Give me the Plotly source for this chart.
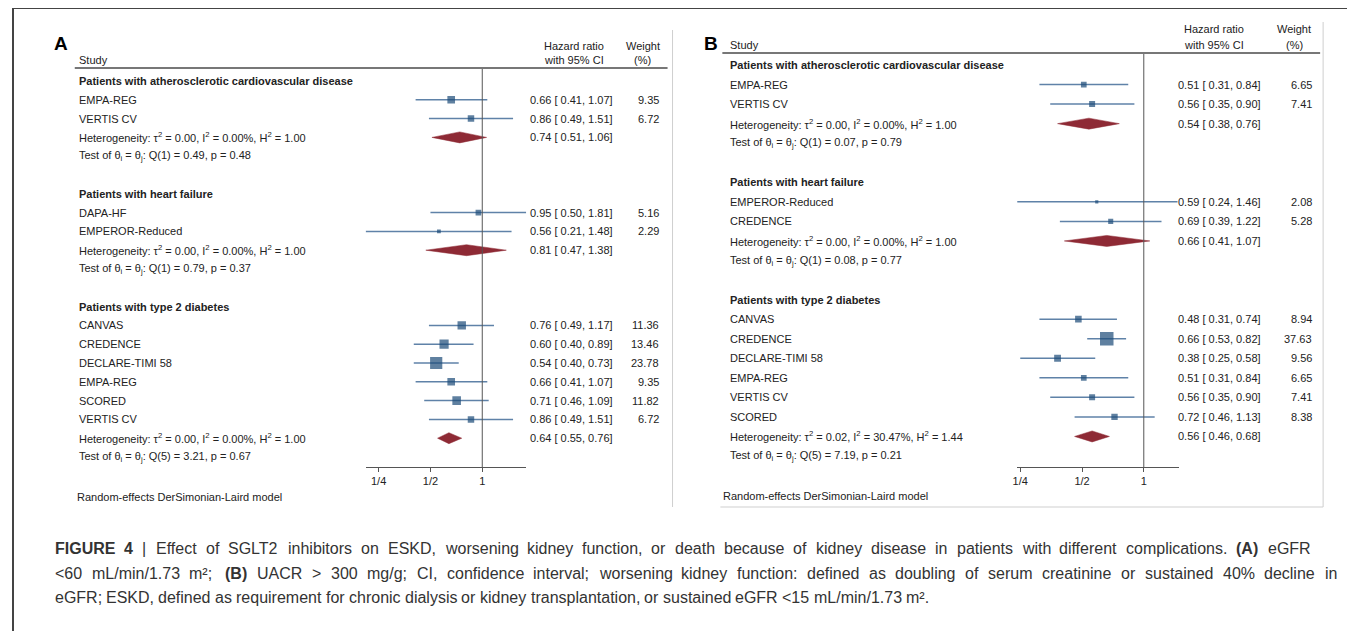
import math
import plotly.graph_objects as go

# ---------------- data ----------------
groups = ["Patients with atherosclerotic cardiovascular disease",
          "Patients with heart failure",
          "Patients with type 2 diabetes"]

# Panel A: eGFR < 60
A_studies = [["EMPA-REG", "VERTIS CV"],
             ["DAPA-HF", "EMPEROR-Reduced"],
             ["CANVAS", "CREDENCE", "DECLARE-TIMI 58", "EMPA-REG", "SCORED", "VERTIS CV"]]
A_hr = [[0.66, 0.86], [0.95, 0.56], [0.76, 0.60, 0.54, 0.66, 0.71, 0.86]]
A_lo = [[0.41, 0.49], [0.50, 0.21], [0.49, 0.40, 0.40, 0.41, 0.46, 0.49]]
A_hi = [[1.07, 1.51], [1.81, 1.48], [1.17, 0.89, 0.73, 1.07, 1.09, 1.51]]
A_wt = [[9.35, 6.72], [5.16, 2.29], [11.36, 13.46, 23.78, 9.35, 11.82, 6.72]]
A_pool_hr = [0.74, 0.81, 0.64]
A_pool_lo = [0.51, 0.47, 0.55]
A_pool_hi = [1.06, 1.38, 0.76]
A_tau2 = ["0.00", "0.00", "0.00"]
A_I2 = ["0.00", "0.00", "0.00"]
A_H2 = ["1.00", "1.00", "1.00"]
A_Qdf = [1, 1, 5]
A_Q = ["0.49", "0.79", "3.21"]
A_p = ["0.48", "0.37", "0.67"]

# Panel B: UACR > 300
B_studies = [["EMPA-REG", "VERTIS CV"],
             ["EMPEROR-Reduced", "CREDENCE"],
             ["CANVAS", "CREDENCE", "DECLARE-TIMI 58", "EMPA-REG", "VERTIS CV", "SCORED"]]
B_hr = [[0.51, 0.56], [0.59, 0.69], [0.48, 0.66, 0.38, 0.51, 0.56, 0.72]]
B_lo = [[0.31, 0.35], [0.24, 0.39], [0.31, 0.53, 0.25, 0.31, 0.35, 0.46]]
B_hi = [[0.84, 0.90], [1.46, 1.22], [0.74, 0.82, 0.58, 0.84, 0.90, 1.13]]
B_wt = [[6.65, 7.41], [2.08, 5.28], [8.94, 37.63, 9.56, 6.65, 7.41, 8.38]]
B_pool_hr = [0.54, 0.66, 0.56]
B_pool_lo = [0.38, 0.41, 0.46]
B_pool_hi = [0.76, 1.07, 0.68]
B_tau2 = ["0.00", "0.00", "0.02"]
B_I2 = ["0.00", "0.00", "30.47"]
B_H2 = ["1.00", "1.00", "1.44"]
B_Qdf = [1, 1, 5]
B_Q = ["0.07", "0.08", "7.19"]
B_p = ["0.79", "0.77", "0.21"]

tick_vals = [0.25, 0.5, 1]
tick_text = ["1/4", "1/2", "1"]

# caption (words wrapped in * are bold)
caption_lines = [
    "*FIGURE* *4* | Effect of SGLT2 inhibitors on ESKD, worsening kidney function, or death because of kidney disease in patients with different complications. *(A)* eGFR",
    "<60 mL/min/1.73 m²; *(B)* UACR > 300 mg/g; CI, confidence interval; worsening kidney function: defined as doubling of serum creatinine or sustained 40% decline in",
    "eGFR; ESKD, defined as requirement for chronic dialysis or kidney transplantation, or sustained eGFR <15 mL/min/1.73 m².",
]

# ---------------- layout helpers ----------------
OFF = 8                      # page body margin
W, H = 1355 - OFF, 631 - OFF
FONT = "Liberation Sans, Arial, sans-serif"
TXT = "#222222"
SQ = "#1B4A78"
CI = "#5F82A8"
DIA = "#8E2A35"
L2 = math.log10(2)


def px(x):
    return (x - OFF) / W


def py(y):
    return 1 - (y - OFF) / H


# Arial / Liberation Sans advance widths (1/1000 em)
_AW = {' ': 278, '!': 278, '%': 889, '(': 333, ')': 333, ',': 278, '-': 333, '.': 278,
       '/': 278, ':': 278, ';': 278, '<': 584, '=': 584, '>': 584, '|': 260, '²': 333,
       'A': 667, 'B': 667, 'C': 722, 'D': 722, 'E': 667, 'F': 611, 'G': 778, 'H': 722,
       'I': 278, 'J': 500, 'K': 667, 'L': 556, 'M': 833, 'N': 722, 'O': 778, 'P': 667,
       'Q': 778, 'R': 722, 'S': 667, 'T': 611, 'U': 722, 'V': 667, 'W': 944, 'X': 667,
       'Y': 667, 'Z': 611, 'a': 556, 'b': 556, 'c': 500, 'd': 556, 'e': 556, 'f': 278,
       'g': 556, 'h': 556, 'i': 222, 'j': 222, 'k': 500, 'l': 222, 'm': 833, 'n': 556,
       'o': 556, 'p': 556, 'q': 556, 'r': 333, 's': 500, 't': 278, 'u': 556, 'v': 500,
       'w': 722, 'x': 500, 'y': 500, 'z': 500}
_BW = {'F': 611, 'I': 278, 'G': 778, 'U': 722, 'R': 722, 'E': 667, '4': 556,
       '(': 333, ')': 333, 'A': 722, 'B': 722}


def text_w(s, bold, size):
    tot = 0
    for ch in s:
        if bold and ch in _BW:
            tot += _BW[ch]
        elif ch.isdigit():
            tot += 556
        else:
            tot += _AW.get(ch, 556)
    return tot * size / 1000.0


def esc(s):
    return s.replace("&", "&amp;").replace("<", "&lt;").replace(">", "&gt;")


panels = [
    dict(name="A", xa="x", ya="y", xaxis="xaxis", yaxis="yaxis",
         studies=A_studies, hr=A_hr, lo=A_lo, hi=A_hi, wt=A_wt,
         phr=A_pool_hr, plo=A_pool_lo, phi=A_pool_hi,
         tau2=A_tau2, I2=A_I2, H2=A_H2, Qdf=A_Qdf, Q=A_Q, p=A_p,
         row0=81, dy=18.8, one=479, dbl=52, ax_lo=362, ax_hi=523, ax_y=467,
         null_top=69, lab_x=74, val_x=527, wt_x=656, hdr_c=571, wt_c=640,
         hy1=46, hy2=60, ul_y=68, ul_x0=70, ul_x1=665, let_x=49, let_y=43,
         sq_k=2.5, foot_y=497, foot_x=72),
    dict(name="B", xa="x2", ya="y2", xaxis="xaxis2", yaxis="yaxis2",
         studies=B_studies, hr=B_hr, lo=B_lo, hi=B_hi, wt=B_wt,
         phr=B_pool_hr, plo=B_pool_lo, phi=B_pool_hi,
         tau2=B_tau2, I2=B_I2, H2=B_H2, Qdf=B_Qdf, Q=B_Q, p=B_p,
         row0=65, dy=19.55, one=1143, dbl=62, ax_lo=1016, ax_hi=1178, ax_y=467,
         null_top=54, lab_x=728, val_x=1177, wt_x=1312, hdr_c=1213, wt_c=1294,
         hy1=29, hy2=45, ul_y=53, ul_x0=720, ul_x1=1320, let_x=702, let_y=43,
         sq_k=2.2, foot_y=496, foot_x=721),
]

fig = go.Figure()
annotations = []
shapes = []
layout_axes = {}


def ann(text, x, y, xref="paper", yref="paper", xanchor="left", size=11,
        color=TXT, yanchor="middle"):
    annotations.append(dict(text=text, x=x, y=y, xref=xref, yref=yref,
                            xanchor=xanchor, yanchor=yanchor, showarrow=False,
                            borderpad=0, borderwidth=0,
                            font=dict(family=FONT, size=size, color=color)))


for P in panels:
    r = 0
    ci_x, ci_y = [], []
    mk_x, mk_y, mk_s = [], [], []
    for g in range(len(groups)):
        ann("<b>" + groups[g] + "</b>", px(P["lab_x"]), r, yref=P["ya"])
        r += 1
        for s in range(len(P["studies"][g])):
            hr, lo, hi, wt = P["hr"][g][s], P["lo"][g][s], P["hi"][g][s], P["wt"][g][s]
            ann(P["studies"][g][s], px(P["lab_x"]), r, yref=P["ya"])
            ann(f"{hr:.2f} [ {lo:.2f}, {hi:.2f}]", px(P["val_x"]), r, yref=P["ya"])
            ann(f"{wt:.2f}", px(P["wt_x"]), r, yref=P["ya"], xanchor="right")
            ci_x += [lo, hi, None]
            ci_y += [r, r, None]
            mk_x.append(hr)
            mk_y.append(r)
            mk_s.append(P["sq_k"] * math.sqrt(wt))
            r += 1
        # pooled diamond
        h = 5.5 / P["dy"]
        fig.add_trace(go.Scatter(
            x=[P["plo"][g], P["phr"][g], P["phi"][g], P["phr"][g], P["plo"][g]],
            y=[r, r - h, r, r + h, r], mode="lines", fill="toself",
            fillcolor=DIA, line=dict(color=DIA, width=0.5),
            xaxis=P["xa"], yaxis=P["ya"], hoverinfo="skip", showlegend=False))
        ann(f"Heterogeneity: \u03c4<sup>2</sup> = {P['tau2'][g]}, I<sup>2</sup> = {P['I2'][g]}%, "
            f"H<sup>2</sup> = {P['H2'][g]}", px(P["lab_x"]), r, yref=P["ya"])
        ann(f"{P['phr'][g]:.2f} [ {P['plo'][g]:.2f}, {P['phi'][g]:.2f}]",
            px(P["val_x"]), r, yref=P["ya"])
        r += 1
        ann(f"Test of \u03b8<sub>i</sub> = \u03b8<sub>j</sub>: Q({P['Qdf'][g]}) = {P['Q'][g]}, p = {P['p'][g]}",
            px(P["lab_x"]), r, yref=P["ya"])
        r += 2

    fig.add_trace(go.Scatter(x=ci_x, y=ci_y, mode="lines",
                             line=dict(color=CI, width=1.5),
                             xaxis=P["xa"], yaxis=P["ya"], hoverinfo="skip",
                             showlegend=False))
    fig.add_trace(go.Scatter(x=mk_x, y=mk_y, mode="markers",
                             marker=dict(symbol="square", size=mk_s, color=SQ,
                                         line=dict(width=0)),
                             xaxis=P["xa"], yaxis=P["ya"], hoverinfo="skip",
                             showlegend=False))

    # axes
    xr = [L2 * (P["ax_lo"] - P["one"]) / P["dbl"], L2 * (P["ax_hi"] - P["one"]) / P["dbl"]]
    yr = [(P["ax_y"] - P["row0"]) / P["dy"], (OFF - P["row0"]) / P["dy"]]
    layout_axes[P["xaxis"]] = dict(
        type="log", domain=[px(P["ax_lo"]), px(P["ax_hi"])], range=xr,
        anchor=P["ya"], showline=True, linecolor="#555555", linewidth=1,
        ticks="outside", ticklen=4, tickcolor="#555555", tickwidth=1,
        tickvals=tick_vals, ticktext=tick_text, showgrid=False, zeroline=False,
        tickfont=dict(family=FONT, size=11, color=TXT), fixedrange=True)
    layout_axes[P["yaxis"]] = dict(
        domain=[py(P["ax_y"]), 1], range=yr, visible=False, showgrid=False,
        zeroline=False, anchor=P["xa"], fixedrange=True)

    # null line at 1
    shapes.append(dict(type="line", xref=P["xa"], yref="paper", x0=1, x1=1,
                       y0=py(P["ax_y"]), y1=py(P["null_top"]),
                       line=dict(color="#555555", width=1)))
    # header underline
    shapes.append(dict(type="line", xref="paper", yref="paper",
                       x0=px(P["ul_x0"]), x1=px(P["ul_x1"]),
                       y0=py(P["ul_y"]), y1=py(P["ul_y"]),
                       line=dict(color="#777777", width=2)))
    # headers
    ann("Study", px(P["lab_x"]), py(P["hy2"]))
    ann("Hazard ratio", px(P["hdr_c"]), py(P["hy1"]), xanchor="center")
    ann("with 95% CI", px(P["hdr_c"]), py(P["hy2"]), xanchor="center")
    ann("Weight", px(P["wt_c"]), py(P["hy1"]), xanchor="center")
    ann("(%)", px(P["wt_c"]), py(P["hy2"]), xanchor="center")
    ann("Random-effects DerSimonian-Laird model", px(P["foot_x"]), py(P["foot_y"]))
    ann("<b>" + P["name"] + "</b>", px(P["let_x"]), py(P["let_y"]), size=19, color="#000000")

# frame lines
line_dark = dict(color="#444444", width=2)
line_light = dict(color="#CFCFCF", width=1)
shapes += [
    dict(type="line", xref="paper", yref="paper", x0=0, x1=1, y0=1, y1=1, line=line_dark),
    dict(type="line", xref="paper", yref="paper", x0=0, x1=0, y0=1, y1=0, line=line_dark),
    dict(type="line", xref="paper", yref="paper", x0=px(670), x1=px(670), y0=py(30), y1=py(507), line=line_light),
    dict(type="line", xref="paper", yref="paper", x0=px(1323), x1=px(1323), y0=py(22), y1=py(507), line=line_light),
    dict(type="line", xref="paper", yref="paper", x0=px(718), x1=px(1323), y0=py(507), y1=py(507), line=line_light),
]

# caption: lines 1-2 justified (word-by-word), line 3 left aligned
CAP_FS = 16
cap_y = [548, 573, 597]
cap_right = [1310, 1337, None]
for line, yy, right in zip(caption_lines, cap_y, cap_right):
    words = line.split(" ")
    info = []
    for wd in words:
        bold = wd.startswith("*") and wd.endswith("*")
        plain = wd.strip("*") if bold else wd
        info.append((plain, bold, text_w(plain, bold, CAP_FS)))
    sp = text_w(" ", False, CAP_FS)
    if right is not None:
        total = sum(w for _, _, w in info)
        sp = max(sp, (right - 50 - total) / (len(info) - 1))
    x = 50.0
    for plain, bold, w in info:
        disp = esc(plain)
        if bold:
            disp = "<b>" + disp + "</b>"
        ann(disp, px(x), py(yy), size=CAP_FS, color="#333333")
        x += w + sp

fig.update_layout(
    width=W, height=H, margin=dict(l=0, r=0, t=0, b=0),
    paper_bgcolor="white", plot_bgcolor="rgba(0,0,0,0)",
    showlegend=False, annotations=annotations, shapes=shapes,
    font=dict(family=FONT, size=11, color=TXT),
    **layout_axes)

fig.write_html("out.html")
